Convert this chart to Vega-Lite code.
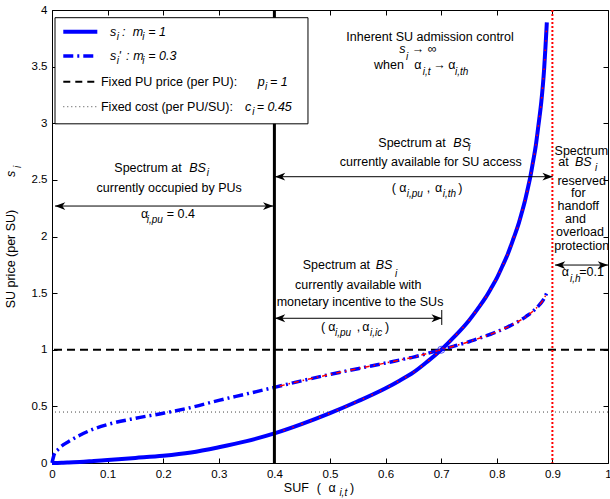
{
  "$schema": "https://vega.github.io/schema/vega-lite/v6.json",
  "width": 556,
  "height": 453,
  "autosize": {"type": "none"},
  "padding": {"left": 52, "top": 10, "right": 2, "bottom": 36},
  "background": "white",
  "config": {
    "view": {"stroke": "black", "strokeWidth": 1},
    "axis": {"grid": false, "domain": false, "tickColor": "black", "tickSize": -5, "labelColor": "black", "labelFont": "Liberation Sans", "labelFontSize": 11.5, "labelPadding": 10, "title": null, "labelFlush": false}
  },
  "datasets": {
    "cv": [
      {"x": 0, "y": 0, "m": "1"}, {"x": 0.005, "y": 0.0003, "m": "1"}, {"x": 0.01, "y": 0.0007, "m": "1"}, {"x": 0.02, "y": 0.0022, "m": "1"}, {"x": 0.03, "y": 0.0039, "m": "1"}, {"x": 0.05, "y": 0.0092, "m": "1"}, {"x": 0.075, "y": 0.018, "m": "1"}, {"x": 0.1, "y": 0.027, "m": "1"}, {"x": 0.15, "y": 0.045, "m": "1"}, {"x": 0.2, "y": 0.064, "m": "1"}, {"x": 0.25, "y": 0.093, "m": "1"}, {"x": 0.3, "y": 0.139, "m": "1"}, {"x": 0.35, "y": 0.193, "m": "1"}, {"x": 0.4, "y": 0.261, "m": "1"}, {"x": 0.45, "y": 0.345, "m": "1"}, {"x": 0.5, "y": 0.44, "m": "1"}, {"x": 0.55, "y": 0.545, "m": "1"}, {"x": 0.6, "y": 0.66, "m": "1"}, {"x": 0.625, "y": 0.727, "m": "1"}, {"x": 0.65, "y": 0.8, "m": "1"}, {"x": 0.675, "y": 0.895, "m": "1"}, {"x": 0.7, "y": 1.0, "m": "1"}, {"x": 0.725, "y": 1.122, "m": "1"}, {"x": 0.75, "y": 1.259, "m": "1"}, {"x": 0.765, "y": 1.357, "m": "1"}, {"x": 0.78, "y": 1.462, "m": "1"}, {"x": 0.79, "y": 1.545, "m": "1"}, {"x": 0.8, "y": 1.632, "m": "1"}, {"x": 0.81, "y": 1.737, "m": "1"}, {"x": 0.82, "y": 1.848, "m": "1"}, {"x": 0.83, "y": 1.982, "m": "1"}, {"x": 0.84, "y": 2.125, "m": "1"}, {"x": 0.845, "y": 2.212, "m": "1"}, {"x": 0.85, "y": 2.302, "m": "1"}, {"x": 0.855, "y": 2.408, "m": "1"}, {"x": 0.86, "y": 2.519, "m": "1"}, {"x": 0.865, "y": 2.655, "m": "1"}, {"x": 0.87, "y": 2.798, "m": "1"}, {"x": 0.875, "y": 2.986, "m": "1"}, {"x": 0.88, "y": 3.187, "m": "1"}, {"x": 0.885, "y": 3.47, "m": "1"}, {"x": 0.8875, "y": 3.67, "m": "1"}, {"x": 0.89, "y": 3.89, "m": "1"},
      {"x": 0, "y": 0, "m": "0.3"}, {"x": 0.005, "y": 0.09, "m": "0.3"}, {"x": 0.01, "y": 0.115, "m": "0.3"}, {"x": 0.02, "y": 0.16, "m": "0.3"}, {"x": 0.03, "y": 0.19, "m": "0.3"}, {"x": 0.05, "y": 0.245, "m": "0.3"}, {"x": 0.075, "y": 0.3, "m": "0.3"}, {"x": 0.1, "y": 0.34, "m": "0.3"}, {"x": 0.15, "y": 0.395, "m": "0.3"}, {"x": 0.2, "y": 0.439, "m": "0.3"}, {"x": 0.25, "y": 0.49, "m": "0.3"}, {"x": 0.3, "y": 0.553, "m": "0.3"}, {"x": 0.35, "y": 0.61, "m": "0.3"}, {"x": 0.4, "y": 0.668, "m": "0.3"}, {"x": 0.45, "y": 0.727, "m": "0.3"}, {"x": 0.5, "y": 0.782, "m": "0.3"}, {"x": 0.55, "y": 0.833, "m": "0.3"}, {"x": 0.6, "y": 0.883, "m": "0.3"}, {"x": 0.625, "y": 0.909, "m": "0.3"}, {"x": 0.65, "y": 0.935, "m": "0.3"}, {"x": 0.675, "y": 0.967, "m": "0.3"}, {"x": 0.7, "y": 1.0, "m": "0.3"}, {"x": 0.725, "y": 1.035, "m": "0.3"}, {"x": 0.75, "y": 1.071, "m": "0.3"}, {"x": 0.765, "y": 1.096, "m": "0.3"}, {"x": 0.78, "y": 1.121, "m": "0.3"}, {"x": 0.79, "y": 1.139, "m": "0.3"}, {"x": 0.8, "y": 1.158, "m": "0.3"}, {"x": 0.81, "y": 1.18, "m": "0.3"}, {"x": 0.82, "y": 1.202, "m": "0.3"}, {"x": 0.83, "y": 1.228, "m": "0.3"}, {"x": 0.84, "y": 1.254, "m": "0.3"}, {"x": 0.845, "y": 1.269, "m": "0.3"}, {"x": 0.85, "y": 1.284, "m": "0.3"}, {"x": 0.855, "y": 1.302, "m": "0.3"}, {"x": 0.86, "y": 1.319, "m": "0.3"}, {"x": 0.865, "y": 1.34, "m": "0.3"}, {"x": 0.87, "y": 1.362, "m": "0.3"}, {"x": 0.875, "y": 1.388, "m": "0.3"}, {"x": 0.88, "y": 1.416, "m": "0.3"}, {"x": 0.885, "y": 1.452, "m": "0.3"}, {"x": 0.8875, "y": 1.477, "m": "0.3"}, {"x": 0.89, "y": 1.503, "m": "0.3"}
    ],
    "hl": [{"y": 0.45, "k": "cost"}, {"y": 1, "k": "pu"}],
    "vl": [{"x": 0.4, "k": "pu"}, {"x": 0.9, "k": "h"}],
    "arr": [{"x": 0.0054, "x2": 0.398, "y": 2.269}, {"x": 0.401, "x2": 0.9005, "y": 2.528}, {"x": 0.401, "x2": 0.701, "y": 1.278}, {"x": 0.9047, "x2": 1.0, "y": 1.748}],
    "hR": [{"x": 0.398, "y": 2.269}, {"x": 0.9005, "y": 2.528}, {"x": 0.701, "y": 1.278}, {"x": 1.0, "y": 1.748}],
    "hL": [{"x": 0.0054, "y": 2.269}, {"x": 0.401, "y": 2.528}, {"x": 0.401, "y": 1.278}, {"x": 0.9047, "y": 1.748}],
    "bar": [{"x": 0.701, "y": 1.219, "y2": 1.351}],
    "pt": [{"x": 0.7, "y": 1.0}],
    "box": [{"x": 0.0054, "x2": 0.4604, "y": 2.995, "y2": 3.932}],
    "ls": [{"x": 0.0203, "x2": 0.0815, "y": 3.808, "k": "s"}, {"x": 0.0203, "x2": 0.0815, "y": 3.594, "k": "sp"}, {"x": 0.0203, "x2": 0.0815, "y": 3.367, "k": "pu"}, {"x": 0.0203, "x2": 0.0815, "y": 3.146, "k": "cost"}],
    "tL": [
      {"x": 0.0881, "y": 3.367, "t": "Fixed PU price (per PU):"},
      {"x": 0.0881, "y": 3.146, "t": "Fixed cost (per PU/SU):"},
      {"x": 0.6469, "y": 3.656, "t": "→ ∞"},
      {"x": 0.5791, "y": 3.51, "t": "when"},
      {"x": 0.6516, "y": 3.51, "t": "α"},
      {"x": 0.6858, "y": 3.51, "t": "→"},
      {"x": 0.7128, "y": 3.51, "t": "α"},
      {"x": 0.1121, "y": 2.607, "t": "Spectrum at"},
      {"x": 0.1601, "y": 2.199, "t": "α"},
      {"x": 0.2063, "y": 2.199, "t": "= 0.4"},
      {"x": 0.5869, "y": 2.828, "t": "Spectrum at"},
      {"x": 0.611, "y": 2.431, "t": "("},
      {"x": 0.6246, "y": 2.431, "t": "α"},
      {"x": 0.6739, "y": 2.431, "t": ","},
      {"x": 0.6888, "y": 2.431, "t": "α"},
      {"x": 0.7308, "y": 2.431, "t": ")"},
      {"x": 0.9106, "y": 2.655, "t": "at"},
      {"x": 0.4509, "y": 1.748, "t": "Spectrum at"},
      {"x": 0.4838, "y": 1.204, "t": "("},
      {"x": 0.4969, "y": 1.204, "t": "α"},
      {"x": 0.548, "y": 1.204, "t": ","},
      {"x": 0.5581, "y": 1.204, "t": "α"},
      {"x": 0.5989, "y": 1.204, "t": ")"},
      {"x": 0.9167, "y": 1.689, "t": "α"},
      {"x": 0.9484, "y": 1.689, "t": "=0.1"},
      {"x": 0.4169, "y": -0.2234, "t": "SUF"},
      {"x": 0.4763, "y": -0.2234, "t": "("},
      {"x": 0.4973, "y": -0.2234, "t": "α"},
      {"x": 0.536, "y": -0.2234, "t": ")"}
    ],
    "tC": [
      {"x": 0.6799, "y": 3.759, "t": "Inherent SU admission control"},
      {"x": 0.2108, "y": 2.426, "t": "currently occupied by PUs"},
      {"x": 0.6811, "y": 2.655, "t": "currently available for SU access"},
      {"x": 0.952, "y": 2.758, "t": "Spectrum"},
      {"x": 0.9527, "y": 2.49, "t": "reserved"},
      {"x": 0.9466, "y": 2.381, "t": "for"},
      {"x": 0.9466, "y": 2.269, "t": "handoff"},
      {"x": 0.9415, "y": 2.152, "t": "and"},
      {"x": 0.9496, "y": 2.037, "t": "overload"},
      {"x": 0.9527, "y": 1.916, "t": "protection"},
      {"x": 0.5509, "y": 1.572, "t": "currently available with"},
      {"x": 0.554, "y": 1.424, "t": "monetary incentive to the SUs"}
    ],
    "tI": [
      {"x": 0.1043, "y": 3.808, "t": "s"},
      {"x": 0.1259, "y": 3.808, "t": ":"},
      {"x": 0.1451, "y": 3.808, "t": "m"},
      {"x": 0.1732, "y": 3.808, "t": "= 1"},
      {"x": 0.1043, "y": 3.594, "t": "s"},
      {"x": 0.1196, "y": 3.594, "t": "'"},
      {"x": 0.1331, "y": 3.594, "t": ":"},
      {"x": 0.1462, "y": 3.594, "t": "m"},
      {"x": 0.1732, "y": 3.594, "t": "= 0.3"},
      {"x": 0.37, "y": 3.367, "t": "p"},
      {"x": 0.3921, "y": 3.367, "t": "= 1"},
      {"x": 0.3471, "y": 3.146, "t": "c"},
      {"x": 0.3682, "y": 3.146, "t": "= 0.45"},
      {"x": 0.6246, "y": 3.656, "t": "s"},
      {"x": 0.2469, "y": 2.607, "t": "BS"},
      {"x": 0.7218, "y": 2.828, "t": "BS"},
      {"x": 0.9406, "y": 2.655, "t": "BS"},
      {"x": 0.5822, "y": 1.748, "t": "BS"}
    ],
    "tS": [
      {"x": 0.1164, "y": 3.764, "t": "i"},
      {"x": 0.1624, "y": 3.764, "t": "i"},
      {"x": 0.1164, "y": 3.55, "t": "i"},
      {"x": 0.1624, "y": 3.55, "t": "i"},
      {"x": 0.3831, "y": 3.323, "t": "i"},
      {"x": 0.3603, "y": 3.102, "t": "i"},
      {"x": 0.6367, "y": 3.585, "t": "i"},
      {"x": 0.6667, "y": 3.45, "t": "i,t"},
      {"x": 0.7248, "y": 3.45, "t": "i,th"},
      {"x": 0.2782, "y": 2.558, "t": "i"},
      {"x": 0.1703, "y": 2.146, "t": "i,pu"},
      {"x": 0.7487, "y": 2.781, "t": "i"},
      {"x": 0.638, "y": 2.375, "t": "i,pu"},
      {"x": 0.7027, "y": 2.375, "t": "i,th"},
      {"x": 0.9766, "y": 2.602, "t": "i"},
      {"x": 0.6169, "y": 1.669, "t": "i"},
      {"x": 0.509, "y": 1.145, "t": "i,pu"},
      {"x": 0.5719, "y": 1.145, "t": "i,ic"},
      {"x": 0.9317, "y": 1.622, "t": "i,h"},
      {"x": 0.5169, "y": -0.2675, "t": "i,t"}
    ],
    "tR": [{"x": -0.0737, "y": 1.801, "t": "SU price (per SU)"}],
    "tRI": [{"x": -0.0737, "y": 2.552, "t": "s"}],
    "tRS": [{"x": -0.0612, "y": 2.614, "t": "i"}]
  },
  "layer": [
    {
      "data": {"name": "hl"},
      "transform": [{"filter": "datum.k == 'cost'"}],
      "mark": {"type": "rule", "color": "#444", "strokeWidth": 1, "strokeDash": [1, 3]},
      "encoding": {"y": {"field": "y", "type": "quantitative", "scale": {"domain": [0, 4]}, "axis": null}}
    },
    {
      "data": {"name": "hl"},
      "transform": [{"filter": "datum.k == 'pu'"}],
      "mark": {"type": "rule", "color": "black", "strokeWidth": 2, "strokeDash": [8, 5]},
      "encoding": {"y": {"field": "y", "type": "quantitative", "scale": {"domain": [0, 4]}, "axis": null}}
    },
    {
      "data": {"name": "cv"},
      "transform": [{"filter": "datum.m == '0.3'"}],
      "mark": {"type": "line", "color": "#0000ff", "strokeWidth": 3.5, "strokeDash": [10, 4, 2, 4], "interpolate": "monotone"},
      "encoding": {
        "x": {"field": "x", "type": "quantitative", "scale": {"domain": [0, 1], "nice": false}, "axis": {"orient": "bottom", "values": [0, 0.1, 0.2, 0.3, 0.4, 0.5, 0.6, 0.7, 0.8, 0.9, 1], "format": "~g"}},
        "y": {"field": "y", "type": "quantitative", "scale": {"domain": [0, 4], "nice": false}, "axis": {"orient": "left", "values": [0, 0.5, 1, 1.5, 2, 2.5, 3, 3.5, 4], "format": "~g"}}
      }
    },
    {
      "data": {"name": "cv"},
      "transform": [{"filter": "datum.m == '1'"}],
      "mark": {"type": "line", "color": "#0000ff", "strokeWidth": 4, "interpolate": "monotone"},
      "encoding": {
        "x": {"field": "x", "type": "quantitative", "scale": {"domain": [0, 1]}, "axis": {"orient": "top", "values": [0, 0.1, 0.2, 0.3, 0.4, 0.5, 0.6, 0.7, 0.8, 0.9, 1], "labels": false}},
        "y": {"field": "y", "type": "quantitative", "scale": {"domain": [0, 4]}, "axis": {"orient": "right", "values": [0, 0.5, 1, 1.5, 2, 2.5, 3, 3.5, 4], "labels": false}}
      }
    },
    {
      "data": {"name": "cv"},
      "transform": [{"filter": "datum.m == '1' && datum.x >= 0.4"}],
      "mark": {"type": "line", "color": "#ff0000", "strokeWidth": 1.5, "strokeDash": [1.5, 8], "interpolate": "monotone"},
      "encoding": {
        "x": {"field": "x", "type": "quantitative", "scale": {"domain": [0, 1]}, "axis": null},
        "y": {"field": "y", "type": "quantitative", "scale": {"domain": [0, 4]}, "axis": null}
      }
    },
    {
      "data": {"name": "cv"},
      "transform": [{"filter": "datum.m == '0.3' && datum.x >= 0.4"}],
      "mark": {"type": "line", "color": "#ff0000", "strokeWidth": 1.5, "strokeDash": [1.5, 4, 5, 4], "interpolate": "monotone"},
      "encoding": {
        "x": {"field": "x", "type": "quantitative", "scale": {"domain": [0, 1]}, "axis": null},
        "y": {"field": "y", "type": "quantitative", "scale": {"domain": [0, 4]}, "axis": null}
      }
    },
    {
      "data": {"name": "vl"},
      "transform": [{"filter": "datum.k == 'pu'"}],
      "mark": {"type": "rule", "color": "black", "strokeWidth": 3},
      "encoding": {"x": {"field": "x", "type": "quantitative", "scale": {"domain": [0, 1]}, "axis": null}}
    },
    {
      "data": {"name": "vl"},
      "transform": [{"filter": "datum.k == 'h'"}],
      "mark": {"type": "rule", "color": "#ff0000", "strokeWidth": 2, "strokeDash": [2, 2]},
      "encoding": {"x": {"field": "x", "type": "quantitative", "scale": {"domain": [0, 1]}, "axis": null}}
    },
    {
      "data": {"name": "pt"},
      "mark": {"type": "point", "shape": "circle", "filled": false, "color": "#0000ff", "size": 50, "strokeWidth": 1},
      "encoding": {
        "x": {"field": "x", "type": "quantitative", "scale": {"domain": [0, 1]}, "axis": null},
        "y": {"field": "y", "type": "quantitative", "scale": {"domain": [0, 4]}, "axis": null}
      }
    },
    {
      "data": {"name": "arr"},
      "mark": {"type": "rule", "color": "black", "strokeWidth": 1},
      "encoding": {
        "x": {"field": "x", "type": "quantitative", "scale": {"domain": [0, 1]}, "axis": null},
        "x2": {"field": "x2"},
        "y": {"field": "y", "type": "quantitative", "scale": {"domain": [0, 4]}, "axis": null}
      }
    },
    {
      "data": {"name": "bar"},
      "mark": {"type": "rule", "color": "black", "strokeWidth": 1},
      "encoding": {
        "x": {"field": "x", "type": "quantitative", "scale": {"domain": [0, 1]}, "axis": null},
        "y": {"field": "y", "type": "quantitative", "scale": {"domain": [0, 4]}, "axis": null},
        "y2": {"field": "y2"}
      }
    },
    {
      "data": {"name": "hR"},
      "mark": {"type": "point", "shape": "M0,0L-1,-0.38L-0.72,0L-1,0.38Z", "filled": true, "color": "black", "size": 420, "opacity": 1, "strokeWidth": 0},
      "encoding": {
        "x": {"field": "x", "type": "quantitative", "scale": {"domain": [0, 1]}, "axis": null},
        "y": {"field": "y", "type": "quantitative", "scale": {"domain": [0, 4]}, "axis": null}
      }
    },
    {
      "data": {"name": "hL"},
      "mark": {"type": "point", "shape": "M0,0L1,-0.38L0.72,0L1,0.38Z", "filled": true, "color": "black", "size": 420, "opacity": 1, "strokeWidth": 0},
      "encoding": {
        "x": {"field": "x", "type": "quantitative", "scale": {"domain": [0, 1]}, "axis": null},
        "y": {"field": "y", "type": "quantitative", "scale": {"domain": [0, 4]}, "axis": null}
      }
    },
    {
      "data": {"name": "box"},
      "mark": {"type": "rect", "fill": "white", "stroke": "black", "strokeWidth": 1},
      "encoding": {
        "x": {"field": "x", "type": "quantitative", "scale": {"domain": [0, 1]}, "axis": null},
        "x2": {"field": "x2"},
        "y": {"field": "y", "type": "quantitative", "scale": {"domain": [0, 4]}, "axis": null},
        "y2": {"field": "y2"}
      }
    },
    {
      "data": {"name": "ls"},
      "transform": [{"filter": "datum.k == 's'"}],
      "mark": {"type": "rule", "color": "#0000ff", "strokeWidth": 4},
      "encoding": {"x": {"field": "x", "type": "quantitative", "scale": {"domain": [0, 1]}, "axis": null}, "x2": {"field": "x2"}, "y": {"field": "y", "type": "quantitative", "scale": {"domain": [0, 4]}, "axis": null}}
    },
    {
      "data": {"name": "ls"},
      "transform": [{"filter": "datum.k == 'sp'"}],
      "mark": {"type": "rule", "color": "#0000ff", "strokeWidth": 3.5, "strokeDash": [10, 4, 2, 4]},
      "encoding": {"x": {"field": "x", "type": "quantitative", "scale": {"domain": [0, 1]}, "axis": null}, "x2": {"field": "x2"}, "y": {"field": "y", "type": "quantitative", "scale": {"domain": [0, 4]}, "axis": null}}
    },
    {
      "data": {"name": "ls"},
      "transform": [{"filter": "datum.k == 'pu'"}],
      "mark": {"type": "rule", "color": "black", "strokeWidth": 2, "strokeDash": [7, 5]},
      "encoding": {"x": {"field": "x", "type": "quantitative", "scale": {"domain": [0, 1]}, "axis": null}, "x2": {"field": "x2"}, "y": {"field": "y", "type": "quantitative", "scale": {"domain": [0, 4]}, "axis": null}}
    },
    {
      "data": {"name": "ls"},
      "transform": [{"filter": "datum.k == 'cost'"}],
      "mark": {"type": "rule", "color": "#444", "strokeWidth": 1, "strokeDash": [1, 3]},
      "encoding": {"x": {"field": "x", "type": "quantitative", "scale": {"domain": [0, 1]}, "axis": null}, "x2": {"field": "x2"}, "y": {"field": "y", "type": "quantitative", "scale": {"domain": [0, 4]}, "axis": null}}
    },
    {
      "data": {"name": "tL"},
      "mark": {"type": "text", "font": "Liberation Sans", "fontSize": 12.5, "align": "left", "baseline": "middle", "color": "black"},
      "encoding": {"x": {"field": "x", "type": "quantitative", "scale": {"domain": [0, 1]}, "axis": null}, "y": {"field": "y", "type": "quantitative", "scale": {"domain": [0, 4]}, "axis": null}, "text": {"field": "t"}}
    },
    {
      "data": {"name": "tC"},
      "mark": {"type": "text", "font": "Liberation Sans", "fontSize": 12.5, "align": "center", "baseline": "middle", "color": "black"},
      "encoding": {"x": {"field": "x", "type": "quantitative", "scale": {"domain": [0, 1]}, "axis": null}, "y": {"field": "y", "type": "quantitative", "scale": {"domain": [0, 4]}, "axis": null}, "text": {"field": "t"}}
    },
    {
      "data": {"name": "tI"},
      "mark": {"type": "text", "font": "Liberation Sans", "fontSize": 12.5, "fontStyle": "italic", "align": "left", "baseline": "middle", "color": "black"},
      "encoding": {"x": {"field": "x", "type": "quantitative", "scale": {"domain": [0, 1]}, "axis": null}, "y": {"field": "y", "type": "quantitative", "scale": {"domain": [0, 4]}, "axis": null}, "text": {"field": "t"}}
    },
    {
      "data": {"name": "tS"},
      "mark": {"type": "text", "font": "Liberation Sans", "fontSize": 10, "fontStyle": "italic", "align": "left", "baseline": "middle", "color": "black"},
      "encoding": {"x": {"field": "x", "type": "quantitative", "scale": {"domain": [0, 1]}, "axis": null}, "y": {"field": "y", "type": "quantitative", "scale": {"domain": [0, 4]}, "axis": null}, "text": {"field": "t"}}
    },
    {
      "data": {"name": "tR"},
      "mark": {"type": "text", "font": "Liberation Sans", "fontSize": 12.5, "align": "center", "baseline": "middle", "angle": 270, "color": "black"},
      "encoding": {"x": {"field": "x", "type": "quantitative", "scale": {"domain": [0, 1]}, "axis": null}, "y": {"field": "y", "type": "quantitative", "scale": {"domain": [0, 4]}, "axis": null}, "text": {"field": "t"}}
    },
    {
      "data": {"name": "tRI"},
      "mark": {"type": "text", "font": "Liberation Sans", "fontSize": 12.5, "fontStyle": "italic", "align": "center", "baseline": "middle", "angle": 270, "color": "black"},
      "encoding": {"x": {"field": "x", "type": "quantitative", "scale": {"domain": [0, 1]}, "axis": null}, "y": {"field": "y", "type": "quantitative", "scale": {"domain": [0, 4]}, "axis": null}, "text": {"field": "t"}}
    },
    {
      "data": {"name": "tRS"},
      "mark": {"type": "text", "font": "Liberation Sans", "fontSize": 10, "fontStyle": "italic", "align": "center", "baseline": "middle", "angle": 270, "color": "black"},
      "encoding": {"x": {"field": "x", "type": "quantitative", "scale": {"domain": [0, 1]}, "axis": null}, "y": {"field": "y", "type": "quantitative", "scale": {"domain": [0, 4]}, "axis": null}, "text": {"field": "t"}}
    }
  ],
  "resolve": {"axis": {"x": "independent", "y": "independent"}}
}
